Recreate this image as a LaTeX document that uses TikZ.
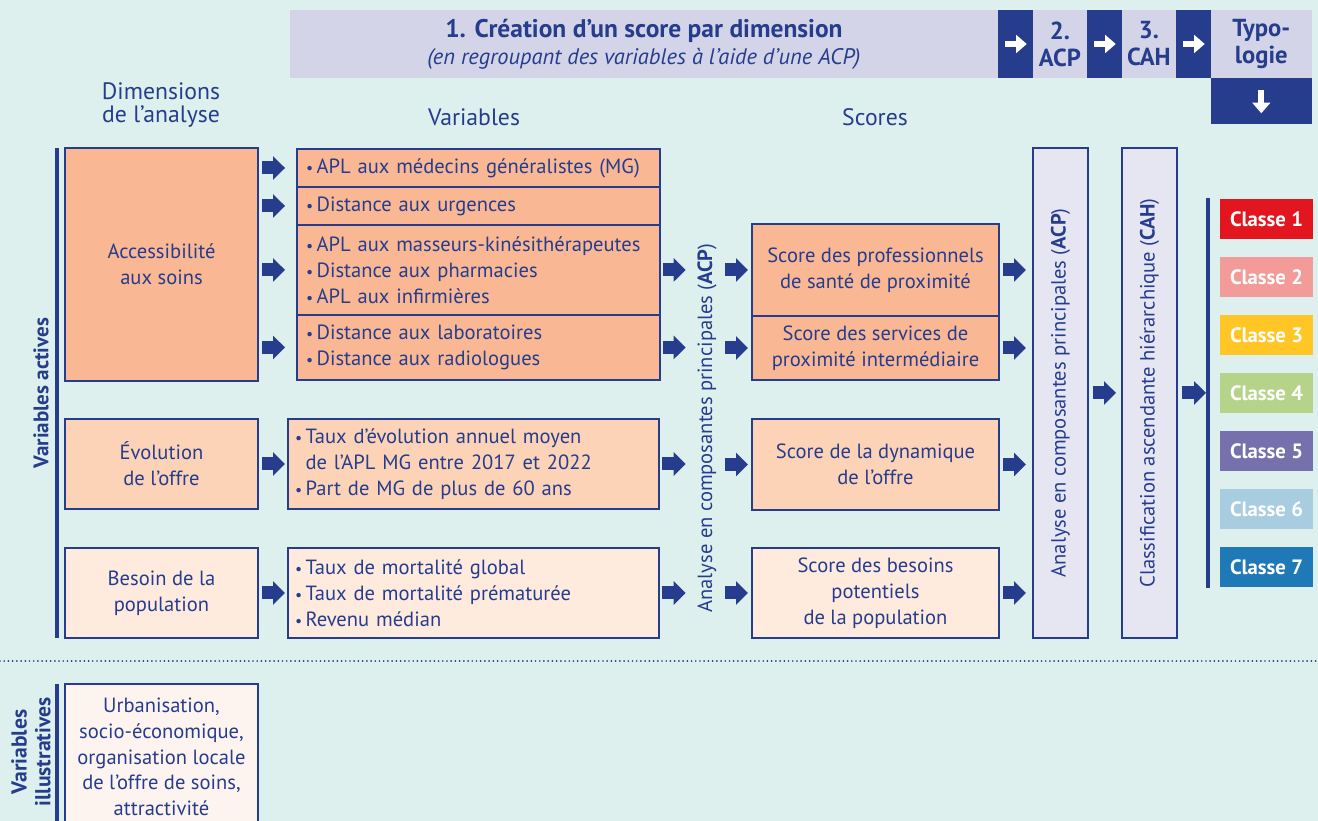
\documentclass[tikz,border=0pt]{standalone}
\usepackage{fontspec}
\setmainfont{PT Sans}
\usetikzlibrary{positioning,arrows.meta}

\definecolor{fond}{HTML}{DDF0EE}
\definecolor{marine}{HTML}{263C8D}
\definecolor{lavande}{HTML}{D3D4E8}
\definecolor{lavclair}{HTML}{E6E6F2}
\definecolor{saumon}{HTML}{F9B893}
\definecolor{peche}{HTML}{FCD3B7}
\definecolor{rose}{HTML}{FEEBDE}
\definecolor{creme}{HTML}{FEF4EF}
\definecolor{cla}{HTML}{E3161F}
\definecolor{clb}{HTML}{F29B98}
\definecolor{clc}{HTML}{FFC626}
\definecolor{cld}{HTML}{B5D48A}
\definecolor{cle}{HTML}{7670AC}
\definecolor{clf}{HTML}{A8CDE1}
\definecolor{clg}{HTML}{2079B7}

\newcommand\puce{{\small\textbullet}\,}

\begin{document}
\begin{tikzpicture}[x=0.02cm, y=-0.02cm,
  every node/.style={text=marine, font=\fontsize{11.7}{14.7}\selectfont},
  boite/.style={draw=marine, line width=0.8pt, outer sep=0pt, inner sep=0pt, align=center},
  liste/.style={boite, align=left, inner xsep=0.18cm, text width=6.9cm},
  liste2/.style={boite, align=left, inner xsep=0.14cm, text width=7.14cm},
  bandeau/.style={fill=lavande, outer sep=0pt, inner sep=0pt, align=center, minimum height=1.36cm, font=\fontsize{14}{15.3}\selectfont\bfseries},
  bloc/.style={fill=marine, outer sep=0pt, minimum width=0.7cm, minimum height=1.36cm},
  haute/.style={boite, fill=lavclair, minimum width=1.1cm, minimum height=9.8cm},
  classe/.style={outer sep=0pt, minimum width=1.86cm, minimum height=0.8cm, text=white, font=\fontsize{11.8}{13}\selectfont\bfseries},
  titre/.style={align=center, font=\fontsize{13.5}{13.6}\selectfont},
  vertical/.style={rotate=90, align=center, inner sep=0pt},
  fleche/.style={draw=marine, line width=7.4pt, -{Triangle[width=13pt,length=6.8pt]}},
  blanche/.style={draw=white, line width=3.6pt, -{Triangle[width=10pt,length=6pt]}},
  barre/.style={draw=marine, line width=2.3pt},
]
\useasboundingbox (0,0) rectangle (1318,821);
\clip (0,0) rectangle (1318,821);
\fill[fond] (0,0) rectangle (1318,821);

% bandeau
\node[bandeau, minimum width=14.16cm, anchor=north west] (etape1) at (290,10) {\fontsize{14.5}{15.3}\selectfont 1. Création d’un score par dimension\\{\mdseries\itshape\fontsize{12.8}{14}\selectfont (en regroupant des variables à l’aide d’une ACP)}};
\node[bloc, right=0pt of etape1] (d1) {};
\node[bandeau, minimum width=1.08cm, right=0pt of d1] (etape2) {2.\\ACP};
\node[bloc, right=0pt of etape2] (d2) {};
\node[bandeau, minimum width=1.08cm, right=0pt of d2] (etape3) {3.\\CAH};
\node[bloc, right=0pt of etape3] (d3) {};
\node[bandeau, minimum width=2.02cm, right=0pt of d3] (typo) {Typo-\\logie};
\node[bloc, minimum width=2.02cm, minimum height=0.92cm, below=0pt of typo] (d4) {};
\foreach \d in {d1,d2,d3}
  \draw[blanche] ([xshift=-6pt]\d.center) -- ([xshift=6.5pt]\d.center);
\draw[blanche] ([yshift=6pt]d4.center) -- ([yshift=-7pt]d4.center);

% titres de colonnes
\node[titre] (hdim) at (161,105) {Dimensions\\de l’analyse};
\node[titre] (hvar) at (474,117) {Variables};
\node[titre] (hsco) at (875,117) {Scores};

% dimensions
\node[boite, fill=saumon, minimum width=3.86cm, minimum height=4.66cm, anchor=north west] (acc) at (65,148) {Accessibilité\\aux soins};
\node[boite, fill=peche, minimum width=3.86cm, minimum height=1.8cm, anchor=north west] (evo) at (65,419) {Évolution\\de l’offre};
\node[boite, fill=rose, minimum width=3.86cm, minimum height=1.8cm, anchor=north west] (bes) at (65,548) {Besoin de la\\population};
\node[boite, fill=creme, minimum width=3.86cm, minimum height=2.92cm, anchor=north west] (urb) at (65,684) {Urbanisation,\\socio-économique,\\organisation locale\\de l’offre de soins,\\attractivité};

\node[vertical, font=\fontsize{12}{13}\selectfont\bfseries] (lact) at (41,393) {Variables actives};
\node[vertical, font=\fontsize{12.3}{13.6}\selectfont\bfseries] (lill) at (31,752) {Variables\\illustratives};
\draw[barre] ([xshift=-4.5pt]acc.north west) -- ([xshift=-4.5pt]bes.south west);
\draw[barre] ([xshift=-4.5pt]urb.north west) -- ([xshift=-4.5pt]urb.south west);

% variables
\node[liste, fill=saumon, minimum height=0.76cm, anchor=north west] (v1) at (297,149) {\puce APL aux médecins généralistes (MG)};
\node[liste, fill=saumon, minimum height=0.76cm, below=0pt of v1] (v2) {\puce Distance aux urgences};
\node[liste, fill=saumon, minimum height=1.8cm, below=0pt of v2] (v3) {\puce APL aux masseurs-kinésithérapeutes\\\puce Distance aux pharmacies\\\puce APL aux infirmières};
\node[liste, fill=saumon, minimum height=1.3cm, below=0pt of v3] (v4) {\puce Distance aux laboratoires\\\puce Distance aux radiologues};
\node[liste2, fill=peche, minimum height=1.8cm, anchor=north west] (v5) at (288,419) {\puce Taux d’évolution annuel moyen\\\hphantom{\puce}de l’APL MG entre 2017 et 2022\\\puce Part de MG de plus de 60 ans};
\node[liste2, fill=rose, minimum height=1.8cm, anchor=north west] (v6) at (288,548) {\puce Taux de mortalité global\\\puce Taux de mortalité prématurée\\\puce Revenu médian};

\node[minimum width=0.78cm, inner sep=0pt] (acplab) at (707,428) {\rotatebox{90}{Analyse en composantes principales (\textbf{ACP})}};

% scores
\node[boite, fill=saumon, minimum width=4.94cm, minimum height=1.84cm, anchor=north west] (s1) at (752,224) {Score des professionnels\\de santé de proximité};
\node[boite, fill=saumon, minimum width=4.94cm, minimum height=1.28cm, below=0pt of s1] (s2) {Score des services de\\proximité intermédiaire};
\node[boite, fill=peche, minimum width=4.94cm, minimum height=1.82cm, anchor=north west] (s3) at (752,419) {Score de la dynamique\\de l’offre};
\node[boite, fill=rose, minimum width=4.94cm, minimum height=1.8cm, anchor=north west] (s4) at (752,548) {Score des besoins\\potentiels\\de la population};

% ACP, CAH, classes
\node[haute, anchor=north west] (acp) at (1033,148) {\rotatebox{90}{Analyse en composantes principales (\textbf{ACP})}};
\node[haute, anchor=north west] (cah) at (1122,148) {\rotatebox{90}{Classification ascendante hiérarchique (\textbf{CAH})}};
\foreach \i/\c in {1/cla,2/clb,3/clc,4/cld,5/cle,6/clf,7/clg}
  \node[classe, fill=\c, anchor=north west] (cl\i) at (1220,{199+58*(\i-1)}) {Classe \i};
\coordinate (bh) at (1208,198);
\coordinate (bb) at (1208,588);
\draw[barre] (bh) -- (bb);

% fleches
\foreach \v in {v1,v2,v3,v4}
  \draw[fleche, shorten <=2.3pt, shorten >=6.8pt] (acc.east |- \v.west) -- (\v.west);
\draw[fleche, shorten <=2.3pt, shorten >=1.7pt] (evo) -- (v5);
\draw[fleche, shorten <=2.3pt, shorten >=1.7pt] (bes) -- (v6);
\foreach \v in {v3,v4,v5,v6}
  \draw[fleche, shorten <=1.7pt, shorten >=0.85pt] (\v.east) -- (acplab.west |- \v.east);
\foreach \s in {s1,s2,s3,s4}
  \draw[fleche, shorten <=-0.85pt, shorten >=2.3pt] (acplab.east |- \s.west) -- (\s.west);
\foreach \s in {s1,s2,s3,s4}
  \draw[fleche, shorten <=2.3pt, shorten >=4pt] (\s.east) -- (acp.west |- \s.east);
\draw[fleche, shorten <=2.8pt, shorten >=3.4pt] (acp) -- (cah);
\draw[fleche, shorten <=2.8pt, shorten >=1.1pt] (cah) -- (bh |- cah);

% separation
\draw[marine, line width=1.1pt, line cap=round, dash pattern=on 0pt off 2.4pt] (0,661) -- (1318,661);
\end{tikzpicture}
\end{document}
